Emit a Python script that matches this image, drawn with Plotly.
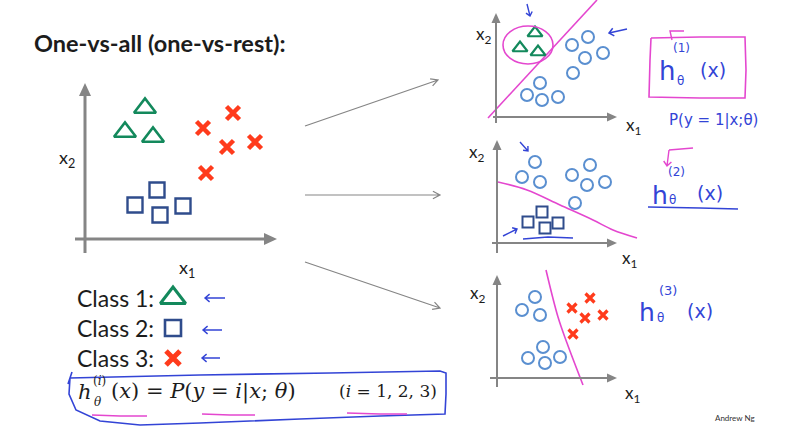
import math
import plotly.graph_objects as go

W, H = 804, 448

# ------------------------------------------------------------------ data
CLASS_NAMES = ["Class 1:", "Class 2:", "Class 3:"]

# main panel: all three classes (feature space units)
TRI_X1 = [6.0, 4.0, 6.8]
TRI_X2 = [13.1, 10.7, 10.2]
SQ_X1 = [7.2, 5.0, 7.5, 9.8]
SQ_X2 = [4.9, 3.4, 2.4, 3.3]
CR_X1 = [14.8, 11.8, 14.2, 17.0, 12.1]
CR_X2 = [12.6, 11.1, 9.2, 9.7, 6.6]

# panel 1: class 1 (triangles) vs rest (circles)
P1_POS_X1 = [3.9, 2.4, 4.2]
P1_POS_X2 = [8.4, 6.9, 6.5]
P1_NEG_X1 = [9.2, 7.6, 10.7, 8.9, 7.7, 4.4, 3.1, 4.6, 6.2]
P1_NEG_X2 = [8.0, 7.2, 6.4, 5.9, 4.4, 3.4, 2.2, 1.7, 2.0]
P1_BOUND_X1 = [-0.8, 10.1]
P1_BOUND_X2 = [-0.1, 11.7]

# panel 2: class 2 (squares) vs rest (circles)
P2_POS_X1 = [4.5, 3.1, 4.8, 6.1]
P2_POS_X2 = [3.1, 2.1, 1.5, 2.0]
P2_NEG_X1 = [3.8, 2.5, 4.3, 7.5, 9.3, 9.0, 10.8, 7.8]
P2_NEG_X2 = [8.1, 6.6, 6.1, 6.8, 7.8, 5.8, 6.1, 4.0]
P2_BOUND_X1 = [0.1, 3.0, 6.3, 9.6, 11.6, 14.0]
P2_BOUND_X2 = [6.1, 5.3, 3.8, 2.3, 1.3, 0.5]

# panel 3: class 3 (crosses) vs rest (circles)
P3_POS_X1 = [9.3, 7.5, 8.8, 10.6, 7.6]
P3_POS_X2 = [8.0, 7.0, 6.0, 6.3, 4.4]
P3_NEG_X1 = [3.8, 2.5, 4.3, 4.6, 3.1, 4.8, 6.3]
P3_NEG_X2 = [8.1, 6.8, 6.3, 3.1, 2.0, 1.5, 2.1]
P3_BOUND_X1 = [4.9, 6.1, 7.0, 8.6]
P3_BOUND_X2 = [10.8, 6.1, 3.5, -0.7]

# ------------------------------------------------------------------ styles
GREEN = "#13895c"
NAVY = "#2f4c8c"
RED = "#ff3b1c"
LBLUE = "#5a8fd0"
PINK = "#e447cf"
PEN = "#3344d6"
GRAY = "#858585"
TXT = "#1c1c1c"

fig = go.Figure()


def panel(px0, px1, py0, py1, ox, oy, scale=10.0):
    return dict(
        dx=[px0 / W, px1 / W],
        dy=[1 - py1 / H, 1 - py0 / H],
        rx=[(px0 - ox) / scale, (px1 - ox) / scale],
        ry=[(oy - py1) / scale, (oy - py0) / scale],
    )


PANELS = [
    panel(55, 290, 75, 265, 85, 239),    # main
    panel(465, 645, 0, 135, 496, 117),   # class 1 vs rest
    panel(465, 645, 135, 265, 497, 243),  # class 2 vs rest
    panel(465, 645, 265, 400, 497, 378),  # class 3 vs rest
]

layout_axes = {}
for i, p in enumerate(PANELS, start=1):
    sx = "" if i == 1 else str(i)
    layout_axes["xaxis" + sx] = dict(domain=p["dx"], range=p["rx"], visible=False,
                                     fixedrange=True, anchor="y" + sx)
    layout_axes["yaxis" + sx] = dict(domain=p["dy"], range=p["ry"], visible=False,
                                     fixedrange=True, anchor="x" + sx)
# overlay axis in pixel units for the slide decorations
layout_axes["xaxis5"] = dict(domain=[0, 1], range=[0, W], visible=False, fixedrange=True, anchor="y5")
layout_axes["yaxis5"] = dict(domain=[0, 1], range=[H, 0], visible=False, fixedrange=True, anchor="x5")


def scat(x, y, ax, symbol, size, color, lw):
    return go.Scatter(x=x, y=y, mode="markers", xaxis="x" + ax, yaxis="y" + ax,
                      hoverinfo="skip",
                      marker=dict(symbol=symbol, size=size, color=color,
                                  line=dict(color=color, width=lw)))


def bound(x, y, ax):
    return go.Scatter(x=x, y=y, mode="lines", xaxis="x" + ax, yaxis="y" + ax,
                      hoverinfo="skip", line=dict(color=PINK, width=1.6, shape="spline"))


# main panel
fig.add_trace(scat(TRI_X1, TRI_X2, "", "triangle-up-open", 19, GREEN, 2.6))
fig.add_trace(scat(SQ_X1, SQ_X2, "", "square-open", 15, NAVY, 2.4))
fig.add_trace(scat(CR_X1, CR_X2, "", "x-thin-open", 13, RED, 4.5))
# panel 1
fig.add_trace(bound(P1_BOUND_X1, P1_BOUND_X2, "2"))
fig.add_trace(scat(P1_POS_X1, P1_POS_X2, "2", "triangle-up-open", 13, GREEN, 2.2))
fig.add_trace(scat(P1_NEG_X1, P1_NEG_X2, "2", "circle-open", 12, LBLUE, 2))
# panel 2
fig.add_trace(bound(P2_BOUND_X1, P2_BOUND_X2, "3"))
fig.add_trace(scat(P2_POS_X1, P2_POS_X2, "3", "square-open", 11, NAVY, 2))
fig.add_trace(scat(P2_NEG_X1, P2_NEG_X2, "3", "circle-open", 12, LBLUE, 2))
# panel 3
fig.add_trace(bound(P3_BOUND_X1, P3_BOUND_X2, "4"))
fig.add_trace(scat(P3_POS_X1, P3_POS_X2, "4", "x-thin-open", 9, RED, 3.2))
fig.add_trace(scat(P3_NEG_X1, P3_NEG_X2, "4", "circle-open", 12, LBLUE, 2))

# legend symbols next to class names
LEG_Y = [298, 328, 358]
fig.add_trace(scat([173], [LEG_Y[0]], "5", "triangle-up-open", 22, GREEN, 3))
fig.add_trace(scat([173], [LEG_Y[1]], "5", "square-open", 16, NAVY, 2.6))
fig.add_trace(scat([173], [LEG_Y[2]], "5", "x-thin-open", 14, RED, 5))

annotations = []
shapes = []

# coordinate axes with filled arrow heads for every panel (in each panel's data units)
AX_SPECS = [
    ("", (-1.0, 19.2), (-1.4, 15.6), 3, 1.3, 0.6),
    ("2", (-0.3, 12.1), (-0.6, 10.4), 2, 1.0, 0.45),
    ("3", (-0.5, 12.0), (-1.0, 10.3), 2, 1.0, 0.45),
    ("4", (-0.7, 12.0), (-0.9, 10.3), 2, 1.0, 0.45),
]
for sx, (xa, xb), (ya, yb), w, hl, hw in AX_SPECS:
    ref = dict(xref="x" + sx, yref="y" + sx)
    shapes.append(dict(type="line", x0=xa, y0=0, x1=xb - hl * 0.8, y1=0,
                       line=dict(color=GRAY, width=w), **ref))
    shapes.append(dict(type="line", x0=0, y0=ya, x1=0, y1=yb - hl * 0.8,
                       line=dict(color=GRAY, width=w), **ref))
    shapes.append(dict(type="path", path=f"M{xb},0 L{xb - hl},{hw} L{xb - hl},{-hw} Z",
                       fillcolor=GRAY, line=dict(color=GRAY, width=0), **ref))
    shapes.append(dict(type="path", path=f"M0,{yb} L{hw},{yb - hl} L{-hw},{yb - hl} Z",
                       fillcolor=GRAY, line=dict(color=GRAY, width=0), **ref))


def txt(x, y, text, size, color=TXT, family="Lato", xanchor="left", yanchor="middle"):
    annotations.append(dict(x=x, y=y, xref="x5", yref="y5", text=text, showarrow=False,
                            xanchor=xanchor, yanchor=yanchor,
                            font=dict(size=size, color=color, family=family)))


def poly(pts):
    return "M" + " L".join(f"{x},{y}" for x, y in pts)


def arrow_path(tx, ty, hx, hy, head=6.0, ang=35):
    a = math.atan2(ty - hy, tx - hx)
    r = math.radians(ang)
    p1 = (hx + head * math.cos(a + r), hy + head * math.sin(a + r))
    p2 = (hx + head * math.cos(a - r), hy + head * math.sin(a - r))
    return (f"M{tx},{ty} L{hx},{hy} M{p1[0]:.1f},{p1[1]:.1f} L{hx},{hy} "
            f"L{p2[0]:.1f},{p2[1]:.1f}")


def path(d, color, width):
    shapes.append(dict(type="path", path=d, xref="x5", yref="y5",
                       line=dict(color=color, width=width), fillcolor="rgba(0,0,0,0)"))


# title
txt(32, 43, "<b>One-vs-all (one-vs-rest):</b>", 23.5)

# axis labels
txt(67, 158, "x<sub>2</sub>", 18, xanchor="center")
txt(187, 268, "x<sub>1</sub>", 18, xanchor="center")
for (x2x, x2y, x1x, x1y) in [(483, 35, 633, 126), (476, 153, 629, 259), (477, 294, 632, 394)]:
    txt(x2x, x2y, "x<sub>2</sub>", 17, xanchor="center")
    txt(x1x, x1y, "x<sub>1</sub>", 17, xanchor="center")

# class legend text
for name, y in zip(CLASS_NAMES, LEG_Y):
    txt(75, y, name, 23)

# formula
SERIF = "DejaVu Serif"
txt(76, 392, "<i>h</i>", 21, family=SERIF)
txt(91, 381, "(<i>i</i>)", 12, family=SERIF)
txt(92, 402, "<i>θ</i>", 12, family=SERIF)
txt(109, 391, "(<i>x</i>) = <i>P</i>(<i>y</i> = <i>i</i>|<i>x</i>; <i>θ</i>)", 21, family=SERIF)
txt(337, 391, "(<i>i</i> = 1, 2, 3)", 17, family=SERIF)

# connector arrows
for (tx, ty, hx, hy) in [(305, 126, 438, 80), (305, 195, 440, 195), (305, 262, 440, 308)]:
    path(arrow_path(tx, ty, hx, hy, head=8, ang=28), GRAY, 1.2)

# handwritten blue box around the formula
path(poly([(72, 372), (68, 384), (70, 378), (200, 375), (330, 373), (440, 371), (446, 373),
           (446, 394), (445, 414), (380, 416), (300, 419), (200, 423), (140, 425), (100, 421),
           (76, 410), (69, 394), (70, 378)]), PEN, 1.6)
# pink underlines in formula
path(poly([(92, 415), (120, 416), (147, 416)]), PINK, 1.6)
path(poly([(202, 414), (230, 415), (255, 415)]), PINK, 1.6)
path(poly([(347, 413), (380, 414), (407, 414)]), PINK, 1.6)
# blue arrows next to classes
path(arrow_path(225, 298, 205, 298, head=6, ang=40), PEN, 1.4)
path(arrow_path(222, 330, 203, 330, head=6, ang=40), PEN, 1.4)
path(arrow_path(220, 358, 202, 358, head=6, ang=40), PEN, 1.4)

# ---------- panel 1 handwriting
shapes.append(dict(type="circle", xref="x2", yref="y2", x0=0.7, x1=5.7, y0=5.3, y1=9.1,
                   line=dict(color=PINK, width=1.6)))
path(arrow_path(627, 29, 609, 33, head=6, ang=40), PEN, 1.5)
path(arrow_path(527, 4, 530, 16, head=5, ang=40), PEN, 1.4)
path(poly([(651, 38), (700, 37), (745, 37), (746, 70), (745, 98), (700, 98), (649, 97),
           (650, 60), (651, 38)]), PINK, 1.6)
path(poly([(684, 31), (670, 31), (672, 40)]), PINK, 1.4)
txt(667, 71, "h", 26, color=PEN, family="DejaVu Sans", xanchor="center")
txt(680, 81, "θ", 12, color=PEN, family="DejaVu Sans", xanchor="center")
txt(713, 70, "(x)", 19, color=PEN, family="DejaVu Sans", xanchor="center")
txt(681, 48, "(1)", 12, color=PEN, family="DejaVu Sans", xanchor="center")
txt(713, 120, "P(y = 1|x;θ)", 15, color=PEN, family="DejaVu Sans", xanchor="center")

# ---------- panel 2 handwriting
path(arrow_path(520, 142, 528, 151, head=5, ang=40), PEN, 1.4)
path(arrow_path(503, 236, 517, 229, head=5, ang=40), PEN, 1.4)
path(poly([(523, 239), (548, 237), (573, 238)]), PEN, 1.5)
path(poly([(693, 148), (669, 150)]), PINK, 1.4)
path(arrow_path(669, 150, 667, 166, head=6, ang=40), PINK, 1.4)
txt(660, 195, "h", 25, color=PEN, family="DejaVu Sans", xanchor="center")
txt(672, 200, "θ", 12, color=PEN, family="DejaVu Sans", xanchor="center")
txt(710, 193, "(x)", 19, color=PEN, family="DejaVu Sans", xanchor="center")
txt(676, 172, "(2)", 12, color=PEN, family="DejaVu Sans", xanchor="center")
path(poly([(648, 207), (700, 208), (738, 209)]), PEN, 1.6)

# ---------- panel 3 handwriting
txt(647, 312, "h", 25, color=PEN, family="DejaVu Sans", xanchor="center")
txt(660, 318, "θ", 12, color=PEN, family="DejaVu Sans", xanchor="center")
txt(700, 311, "(x)", 19, color=PEN, family="DejaVu Sans", xanchor="center")
txt(668, 290, "(3)", 13, color=PEN, family="DejaVu Sans", xanchor="center")

# credit
txt(735, 418, "Andrew Ng", 8, color="#333333", xanchor="center")

fig.update_layout(
    width=W, height=H, margin=dict(l=0, r=0, t=0, b=0),
    paper_bgcolor="white", plot_bgcolor="rgba(0,0,0,0)",
    showlegend=False, annotations=annotations, shapes=shapes,
    **layout_axes,
)

fig.write_html("out.html")
